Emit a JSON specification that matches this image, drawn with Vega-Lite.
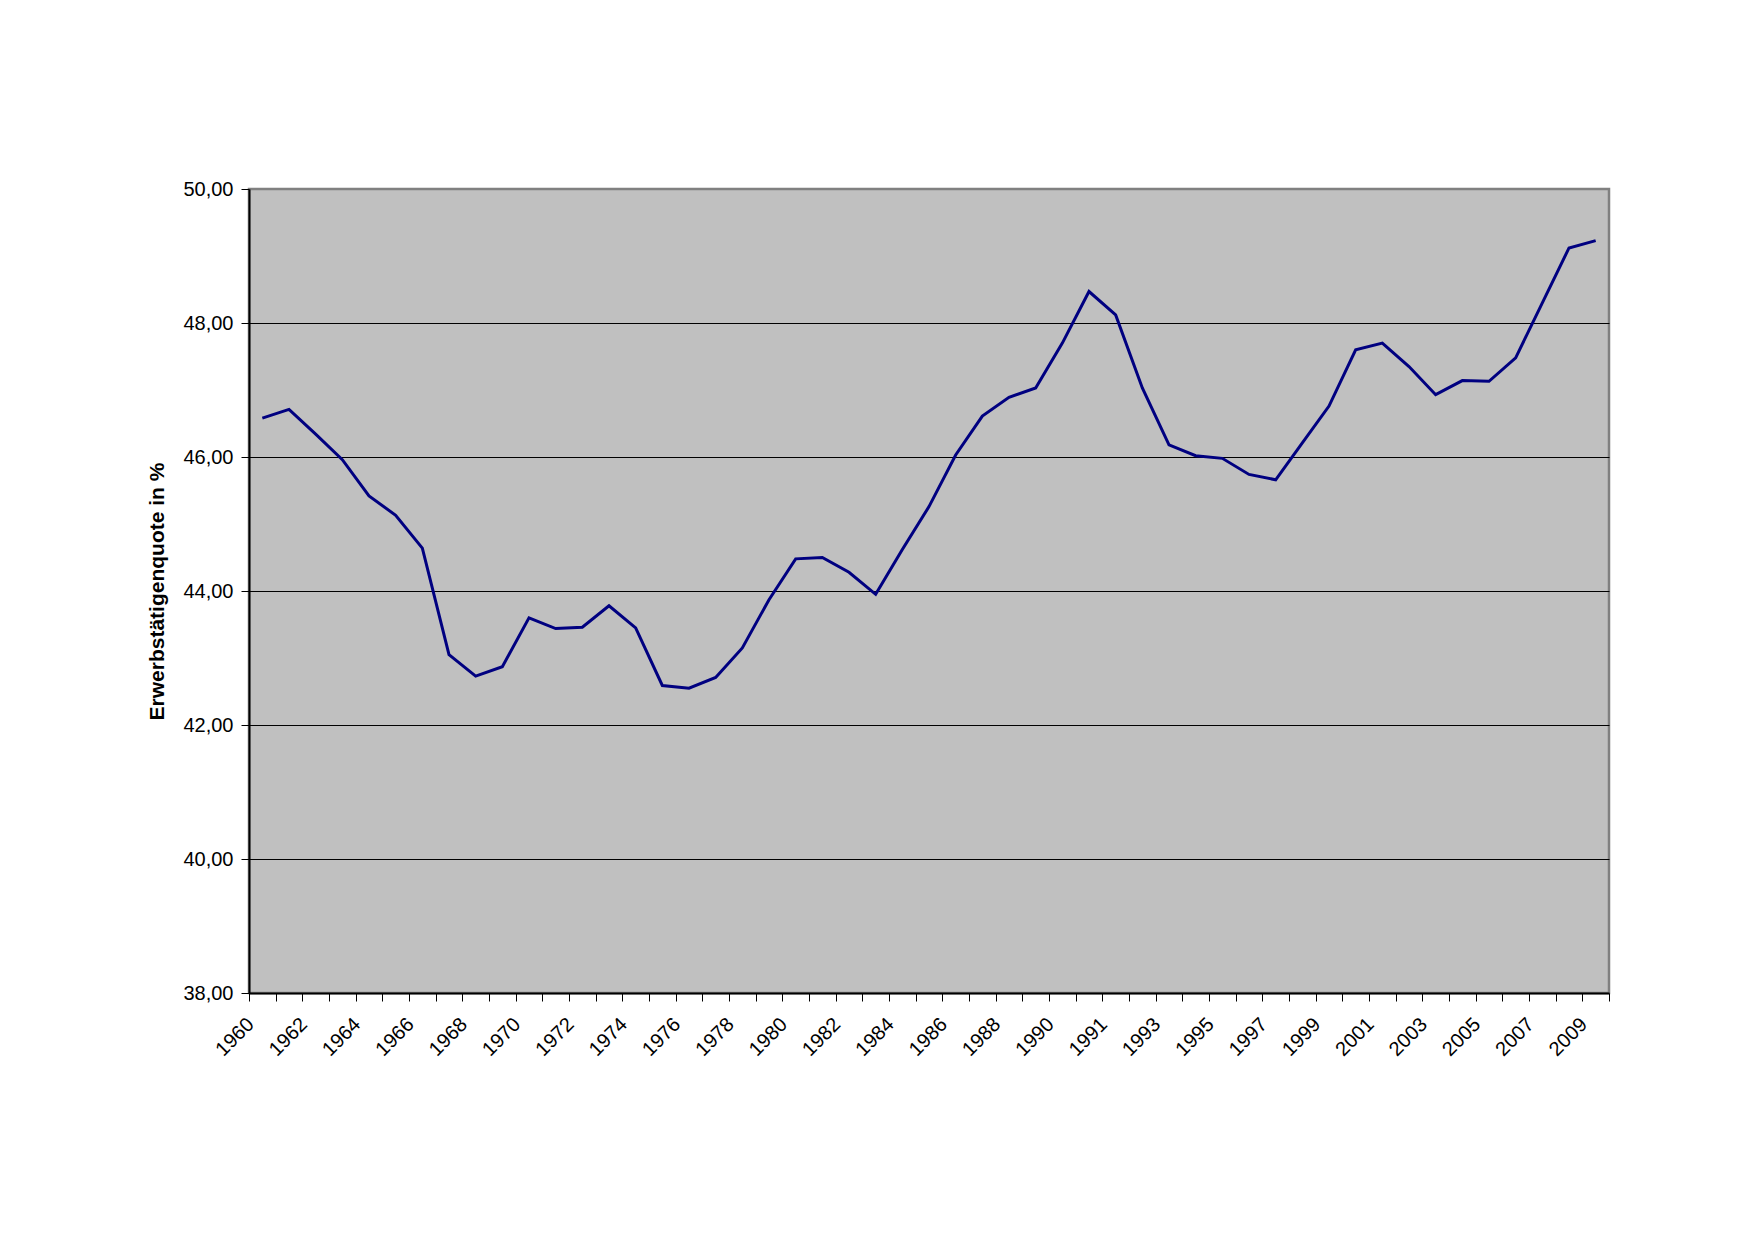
{
  "$schema": "https://vega.github.io/schema/vega-lite/v6.json",
  "autosize": {"type": "none"},
  "width": 1360,
  "height": 804,
  "padding": {"left": 249, "top": 189, "right": 145, "bottom": 247},
  "background": "white",
  "config": {
    "view": {"fill": "#C0C0C0", "stroke": "#808080", "strokeWidth": 2.5},
    "font": "Liberation Sans"
  },
  "data": {
    "values": [
      {"Jahr": "1960", "Quote": 46.58},
      {"Jahr": "1961", "Quote": 46.71},
      {"Jahr": "1962", "Quote": 46.34},
      {"Jahr": "1963", "Quote": 45.96},
      {"Jahr": "1964", "Quote": 45.42},
      {"Jahr": "1965", "Quote": 45.13},
      {"Jahr": "1966", "Quote": 44.64},
      {"Jahr": "1967", "Quote": 43.05},
      {"Jahr": "1968", "Quote": 42.73},
      {"Jahr": "1969", "Quote": 42.87},
      {"Jahr": "1970", "Quote": 43.60},
      {"Jahr": "1971", "Quote": 43.44},
      {"Jahr": "1972", "Quote": 43.46},
      {"Jahr": "1973", "Quote": 43.78},
      {"Jahr": "1974", "Quote": 43.45},
      {"Jahr": "1975", "Quote": 42.59},
      {"Jahr": "1976", "Quote": 42.55},
      {"Jahr": "1977", "Quote": 42.71},
      {"Jahr": "1978", "Quote": 43.15},
      {"Jahr": "1979", "Quote": 43.87},
      {"Jahr": "1980", "Quote": 44.48},
      {"Jahr": "1981", "Quote": 44.50},
      {"Jahr": "1982", "Quote": 44.28},
      {"Jahr": "1983", "Quote": 43.95},
      {"Jahr": "1984", "Quote": 44.62},
      {"Jahr": "1985", "Quote": 45.26},
      {"Jahr": "1986", "Quote": 46.03},
      {"Jahr": "1987", "Quote": 46.61},
      {"Jahr": "1988", "Quote": 46.89},
      {"Jahr": "1989", "Quote": 47.03},
      {"Jahr": "1990", "Quote": 47.70},
      {"Jahr": "1990/91", "Quote": 48.47},
      {"Jahr": "1991", "Quote": 48.12},
      {"Jahr": "1992", "Quote": 47.03},
      {"Jahr": "1993", "Quote": 46.18},
      {"Jahr": "1994", "Quote": 46.02},
      {"Jahr": "1995", "Quote": 45.98},
      {"Jahr": "1996", "Quote": 45.74},
      {"Jahr": "1997", "Quote": 45.66},
      {"Jahr": "1998", "Quote": 46.21},
      {"Jahr": "1999", "Quote": 46.76},
      {"Jahr": "2000", "Quote": 47.60},
      {"Jahr": "2001", "Quote": 47.70},
      {"Jahr": "2002", "Quote": 47.35},
      {"Jahr": "2003", "Quote": 46.93},
      {"Jahr": "2004", "Quote": 47.14},
      {"Jahr": "2005", "Quote": 47.13},
      {"Jahr": "2006", "Quote": 47.48},
      {"Jahr": "2007", "Quote": 48.30},
      {"Jahr": "2008", "Quote": 49.12},
      {"Jahr": "2009", "Quote": 49.23}
    ]
  },
  "mark": {"type": "line", "color": "#000080", "strokeWidth": 3, "strokeJoin": "miter"},
  "encoding": {
    "x": {
      "field": "Jahr",
      "type": "ordinal",
      "sort": null,
      "bandPosition": 0.5,
      "scale": {"type": "band", "paddingInner": 0, "paddingOuter": 0},
      "axis": {
        "title": null,
        "tickBand": "extent",
        "tickSize": 8,
        "tickColor": "black",
        "tickWidth": 1,
        "domainColor": "black",
        "domainWidth": 2,
        "labelAngle": -45,
        "labelAlign": "right",
        "labelBaseline": "middle",
        "labelPadding": 20,
        "labelOffset": -12,
        "labelFont": "Liberation Sans",
        "labelFontSize": 20,
        "labelColor": "black",
        "labelExpr": "indexof(domain('x'), datum.value) % 2 == 0 ? datum.label : ''",
        "labelOverlap": false,
        "grid": false
      }
    },
    "y": {
      "field": "Quote",
      "type": "quantitative",
      "scale": {"domain": [38, 50], "nice": false, "zero": false},
      "axis": {
        "title": "Erwerbstätigenquote in %",
        "titleFont": "Liberation Sans",
        "titleFontSize": 21,
        "titleFontWeight": "bold",
        "titleColor": "black",
        "titlePadding": 15,
        "values": [38, 40, 42, 44, 46, 48, 50],
        "labelExpr": "replace(format(datum.value, '.2f'), '.', ',')",
        "labelFont": "Liberation Sans",
        "labelFontSize": 20,
        "labelColor": "black",
        "labelPadding": 8,
        "tickSize": 8,
        "tickColor": "black",
        "domainColor": "black",
        "domainWidth": 2,
        "grid": true,
        "gridColor": {"condition": {"test": "datum.value == 50 || datum.value == 38", "value": "transparent"}, "value": "black"},
        "gridWidth": 1,
        "gridOpacity": 1
      }
    }
  }
}
